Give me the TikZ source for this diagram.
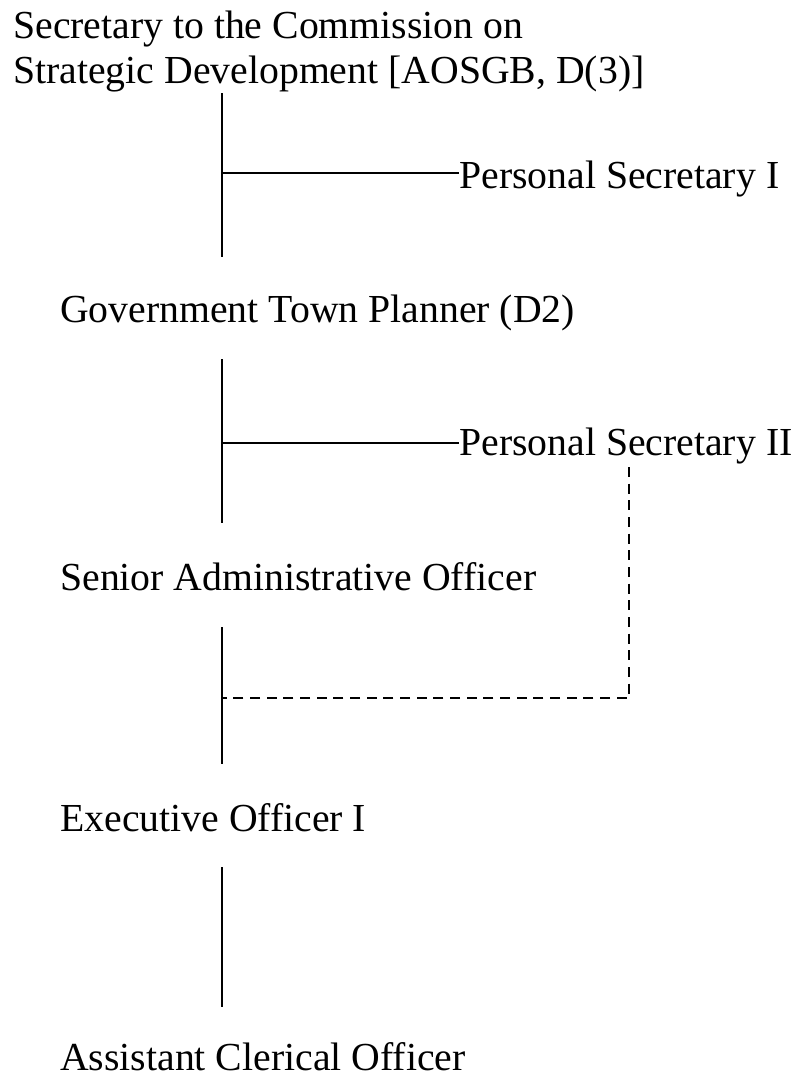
\documentclass[tikz,border=0pt]{standalone}
\usepackage{fontspec}
\setmainfont{Liberation Serif}
\usetikzlibrary{positioning}

\tikzset{
  post/.style={anchor=base west, inner sep=0pt, font=\fontsize{29.8}{34}\selectfont},
  link/.style={line width=1.2pt},
  dotlink/.style={line width=1.2pt, dash pattern=on 7.5pt off 5pt}
}

\begin{document}
\begin{tikzpicture}[x=0.75pt, y=-0.75pt]
      \useasboundingbox (0,0) rectangle (802,1075);

      \node[post] (sec1) at (13,38) {Secretary to the Commission on};
      \node[post] (sec2) at (13,83) {Strategic Development [AOSGB, D(3)]};
      \node[post] (ps1) at (459,188) {Personal Secretary I};
      \node[post] (gtp) at (60,322) {Government Town Planner (D2)};
      \node[post] (ps2) at (459,455) {Personal Secretary II};
      \node[post] (sao) at (60,590) {Senior Administrative Officer};
      \node[post] (eo1) at (60,831) {Executive Officer I};
      \node[post] (aco) at (60,1070) {Assistant Clerical Officer};

      \coordinate (a1) at (222,93);
      \coordinate (j1) at (222,173);
      \coordinate (b1) at (222,257);
      \coordinate (a2) at (222,359);
      \coordinate (j2) at (222,443);
      \coordinate (b2) at (222,523);
      \coordinate (a3) at (222,627);
      \coordinate (j3) at (222,698);
      \coordinate (b3) at (222,764);
      \coordinate (a4) at (222,867);
      \coordinate (b4) at (222,1007);
      \coordinate (d1) at (629,467);
      \coordinate (d2) at (629,698);

      \draw[link] (a1) -- (b1);
      \draw[link] (j1) -- (ps1.west |- j1);
      \draw[link] (a2) -- (b2);
      \draw[link] (j2) -- (ps2.west |- j2);
      \draw[link] (a3) -- (b3);
      \draw[link] (a4) -- (b4);

      \draw[dotlink] (d1) -- (d2) -- (j3);
    \end{tikzpicture}
\end{document}
